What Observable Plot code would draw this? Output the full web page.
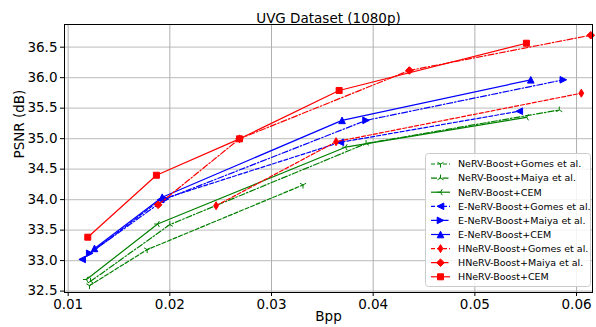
<!DOCTYPE html>
<html>
<head>
<meta charset="utf-8">
<script src="https://cdn.jsdelivr.net/npm/d3@7"></script>
<script src="https://cdn.jsdelivr.net/npm/@observablehq/plot@0.6"></script>
<style>
  body { margin: 0; background: #fff; }
  #wrap { position: relative; width: 596px; height: 327px; font-family: "DejaVu Sans", sans-serif; }
  #legend { position: absolute; left: 0; top: 0; pointer-events: none; }
</style>
</head>
<body>
<div id="wrap"></div>
<script>
// ---------------- data ----------------
const seriesNames = [
  "NeRV-Boost+Gomes et al.",
  "NeRV-Boost+Maiya et al.",
  "NeRV-Boost+CEM",
  "E-NeRV-Boost+Gomes et al.",
  "E-NeRV-Boost+Maiya et al.",
  "E-NeRV-Boost+CEM",
  "HNeRV-Boost+Gomes et al.",
  "HNeRV-Boost+Maiya et al.",
  "HNeRV-Boost+CEM"
];
const nervGomesBpp   = [0.0121, 0.01777, 0.0331];
const nervGomesPsnr  = [32.59, 33.18, 34.24];
const nervMaiyaBpp   = [0.0122, 0.0200, 0.0393, 0.0583];
const nervMaiyaPsnr  = [32.66, 33.59, 34.92, 35.47];
const nervCemBpp     = [0.0118, 0.0188, 0.03727, 0.0551];
const nervCemPsnr    = [32.69, 33.60, 34.86, 35.35];
const enervGomesBpp  = [0.01138, 0.0191, 0.03677, 0.05437];
const enervGomesPsnr = [33.02, 34.00, 34.94, 35.45];
const enervMaiyaBpp  = [0.01212, 0.01957, 0.0393, 0.0587];
const enervMaiyaPsnr = [33.12, 34.01, 35.30, 35.965];
const enervCemBpp    = [0.01259, 0.01925, 0.03694, 0.0555];
const enervCemPsnr   = [33.20, 34.04, 35.30, 35.965];
const hnervGomesBpp  = [0.02455, 0.03635, 0.06047];
const hnervGomesPsnr = [33.90, 34.95, 35.745];
const hnervMaiyaBpp  = [0.01885, 0.02685, 0.04356, 0.0614];
const hnervMaiyaPsnr = [33.915, 34.997, 36.118, 36.696];
const hnervCemBpp    = [0.01193, 0.01868, 0.02685, 0.03665, 0.05507];
const hnervCemPsnr   = [33.384, 34.40, 34.997, 35.79, 36.565];

const xTicks = [0.01, 0.02, 0.03, 0.04, 0.05, 0.06];
const yTicks = [32.5, 33.0, 33.5, 34.0, 34.5, 35.0, 35.5, 36.0, 36.5];
const titleText = "UVG Dataset (1080p)";
const xLabel = "Bpp";
const yLabel = "PSNR (dB)";

const seriesBpp = [nervGomesBpp, nervMaiyaBpp, nervCemBpp, enervGomesBpp, enervMaiyaBpp, enervCemBpp, hnervGomesBpp, hnervMaiyaBpp, hnervCemBpp];
const seriesPsnr = [nervGomesPsnr, nervMaiyaPsnr, nervCemPsnr, enervGomesPsnr, enervMaiyaPsnr, enervCemPsnr, hnervGomesPsnr, hnervMaiyaPsnr, hnervCemPsnr];

// ---------------- symbols ----------------
const mk = (fn) => ({ draw(ctx, size) { const r = Math.sqrt(size / Math.PI); fn(ctx, r); } });
const spokes = (pts) => mk((c, r) => { for (const [a, b] of pts) { c.moveTo(0, 0); c.lineTo(a * r, b * r); } });
const poly = (pts) => mk((c, r) => { pts.forEach(([a, b], i) => i ? c.lineTo(a * r, b * r) : c.moveTo(a * r, b * r)); c.closePath(); });
const triDown  = spokes([[0, 1], [-0.866, -0.5], [0.866, -0.5]]);
const triUp    = spokes([[0, -1], [-0.866, 0.5], [0.866, 0.5]]);
const triLeft  = spokes([[-1, 0], [0.5, -0.866], [0.5, 0.866]]);
const triangleLeft  = poly([[-1, 0], [1, -1], [1, 1]]);
const triangleRight = poly([[1, 0], [-1, -1], [-1, 1]]);
const triangleUp    = poly([[0, -1], [-1, 1], [1, 1]]);
const thinDiamond   = poly([[0, -1], [0.6, 0], [0, 1], [-0.6, 0]]);
const diamond       = poly([[0, -1], [1, 0], [0, 1], [-1, 0]]);
const square        = poly([[-1, -1], [1, -1], [1, 1], [-1, 1]]);

const DASHED = "4,2", DASHDOT = "6,2,1.5,2";
const styles = [
  { color: "#008000", dash: DASHED,  sym: triDown,  filled: false, r: 3.5 },
  { color: "#008000", dash: DASHDOT, sym: triUp,    filled: false, r: 3.5 },
  { color: "#008000", dash: null,    sym: triLeft,  filled: false, r: 3.5 },
  { color: "#0000ff", dash: DASHED,  sym: triangleLeft,  filled: true, r: 3.3 },
  { color: "#0000ff", dash: DASHDOT, sym: triangleRight, filled: true, r: 3.3 },
  { color: "#0000ff", dash: null,    sym: triangleUp,    filled: true, r: 3.3 },
  { color: "#ff0000", dash: DASHED,  sym: thinDiamond,   filled: true, r: 4 },
  { color: "#ff0000", dash: DASHDOT, sym: diamond,       filled: true, r: 3.8 },
  { color: "#ff0000", dash: null,    sym: square,        filled: true, r: 3 }
];

// ---------------- marks ----------------
const marks = [
  Plot.gridY(yTicks, { stroke: "#c8c8c8", strokeOpacity: 1, strokeWidth: 1.3 }),
  Plot.gridX(xTicks, { stroke: "#b0b0b0", strokeOpacity: 1, strokeWidth: 1 }),
];
seriesNames.forEach((name, i) => {
  const rows = seriesBpp[i].map((b, j) => ({ bpp: b, psnr: seriesPsnr[i][j] }));
  const s = styles[i];
  marks.push(Plot.line(rows, {
    x: "bpp", y: "psnr", stroke: s.color, strokeWidth: 1.2,
    strokeDasharray: s.dash || undefined
  }));
  marks.push(Plot.dot(rows, {
    x: "bpp", y: "psnr", symbol: s.sym, r: s.r,
    fill: s.filled ? s.color : "none", stroke: s.color, strokeWidth: 1
  }));
});
marks.push(
  Plot.frame({ stroke: "#000", strokeWidth: 1 }),
  Plot.axisX(xTicks, { tickSize: 4, tickPadding: 3, tickFormat: d3.format(".2f"), fontSize: 13.5, stroke: "#000", label: null }),
  Plot.axisY(yTicks, { tickSize: 4, tickPadding: 3, tickFormat: d3.format(".1f"), fontSize: 13.5, stroke: "#000", label: null }),
  Plot.text([titleText], { text: d => d, frameAnchor: "top", dy: -11, fontSize: 13.5, fill: "#000" }),
  Plot.text([xLabel], { text: d => d, frameAnchor: "bottom", dy: 28, fontSize: 13.5, fill: "#000" }),
  Plot.text([yLabel], { text: d => d, frameAnchor: "left", dx: -45, rotate: -90, fontSize: 13.5, fill: "#000" })
);

const chart = Plot.plot({
  width: 596, height: 327,
  marginLeft: 64, marginRight: 4, marginTop: 24, marginBottom: 35,
  style: { fontFamily: "DejaVu Sans, sans-serif", fontSize: "13.5px", color: "#000", background: "#fff", overflow: "visible" },
  x: { domain: [0.00964, 0.06157] },
  y: { domain: [32.477, 36.872] },
  marks
});
const wrap = document.getElementById("wrap");
wrap.appendChild(chart);

// ---------------- legend ----------------
const leg = d3.select(wrap).append("svg")
  .attr("id", "legend").attr("width", 596).attr("height", 327)
  .style("font-family", "DejaVu Sans, sans-serif");
leg.append("rect")
  .attr("x", 425.5).attr("y", 153.5).attr("width", 165).attr("height", 133)
  .attr("rx", 3).attr("fill", "#fff").attr("fill-opacity", 0.85)
  .attr("stroke", "#cccccc").attr("stroke-width", 1);
seriesNames.forEach((name, i) => {
  const s = styles[i];
  const cy = 164 + i * 14.1;
  const g = leg.append("g");
  g.append("line").attr("x1", 431).attr("x2", 450).attr("y1", cy).attr("y2", cy)
    .attr("stroke", s.color).attr("stroke-width", 1.2)
    .attr("stroke-dasharray", s.dash || null);
  const p = d3.path();
  s.sym.draw(p, s.r * s.r * Math.PI);
  g.append("path").attr("d", p.toString()).attr("transform", `translate(440.5,${cy})`)
    .attr("fill", s.filled ? s.color : "none").attr("stroke", s.color).attr("stroke-width", 1);
  g.append("text").attr("x", 458).attr("y", cy).attr("dy", "0.35em")
    .attr("font-size", 9.5).attr("fill", "#000").text(name);
});
</script>
</body>
</html>
